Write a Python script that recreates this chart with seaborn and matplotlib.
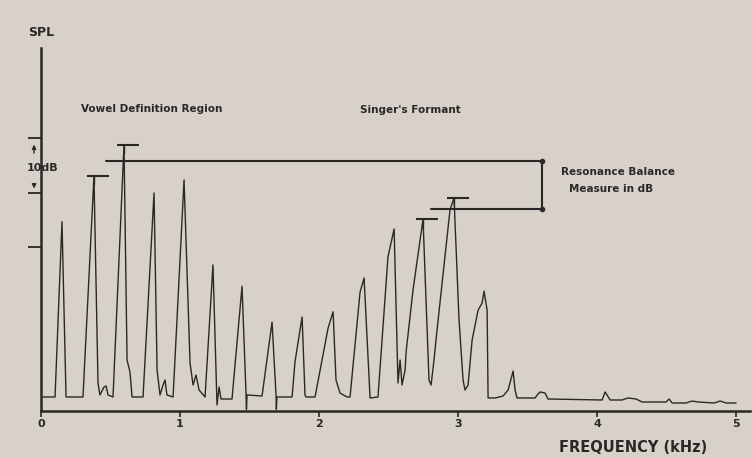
import numpy as np
import pandas as pd
import matplotlib
matplotlib.use("Agg")
import matplotlib.pyplot as plt
import seaborn as sns

# ---------------- data ----------------
freq_khz = [0.014, 0.101, 0.151, 0.180, 0.302, 0.381, 0.410, 0.424, 0.453, 0.468, 0.482, 0.518,
            0.597, 0.619, 0.640, 0.655, 0.734, 0.813, 0.835, 0.856, 0.878, 0.892, 0.906, 0.950,
            1.029, 1.072, 1.094, 1.115, 1.137, 1.180, 1.237, 1.266, 1.281, 1.295, 1.374, 1.446,
            1.475, 1.478, 1.482, 1.590, 1.662, 1.691, 1.693, 1.697, 1.806, 1.827, 1.878, 1.899,
            1.906, 1.971, 2.065, 2.101, 2.122, 2.151, 2.201, 2.223, 2.295, 2.324, 2.367, 2.424,
            2.496, 2.540, 2.568, 2.583, 2.597, 2.619, 2.626, 2.676, 2.748, 2.791, 2.806, 2.827,
            2.849, 2.942, 2.971, 3.007, 3.036, 3.050, 3.072, 3.101, 3.144, 3.173, 3.187, 3.209,
            3.216, 3.266, 3.324, 3.360, 3.396, 3.410, 3.424, 3.554, 3.575, 3.590, 3.626, 3.647,
            4.036, 4.058, 4.094, 4.180, 4.223, 4.281, 4.324, 4.496, 4.518, 4.540, 4.640, 4.683,
            4.727, 4.842, 4.885, 4.928, 5.000]
spl_db = [2.57, 2.57, 34.7, 2.57, 2.57, 43.1, 5.14, 2.94, 4.40, 4.59, 2.94, 2.57,
          48.8, 9.36, 7.16, 2.57, 2.57, 40.0, 7.52, 2.94, 4.77, 5.69, 2.94, 2.57,
          42.4, 8.81, 4.77, 6.61, 3.85, 2.57, 26.8, 1.10, 4.40, 2.20, 2.20, 22.9,
          2.94, 0.30, 2.94, 2.75, 16.3, 2.75, 0.30, 2.57, 2.57, 9.0, 17.25, 2.94,
          2.57, 2.57, 15.2, 18.2, 5.69, 3.30, 2.57, 2.57, 21.8, 24.4, 2.39, 2.57,
          28.3, 33.4, 5.14, 9.36, 4.77, 7.52, 10.8, 22.2, 35.2, 5.69, 4.77, 9.36,
          14.9, 36.9, 39.1, 16.7, 5.69, 3.85, 4.77, 13.0, 18.5, 19.8, 22.0, 18.5,
          2.39, 2.39, 2.75, 3.85, 7.34, 3.85, 2.39, 2.39, 3.10, 3.49, 3.30, 2.20,
          2.02, 3.49, 2.02, 2.02, 2.39, 2.20, 1.65, 1.65, 2.20, 1.47, 1.47, 1.83,
          1.65, 1.47, 1.83, 1.47, 1.47]

vowel_peak_khz = [0.381, 0.597]
vowel_peak_db = [43.1, 48.8]
formant_peak_khz = [2.748, 2.971]
formant_peak_db = [35.2, 39.1]

x_ticks = [0, 1, 2, 3, 4, 5]
y_ticks = [30, 40, 50]

# ---------------- style ----------------
sns.set_theme(style="white")
plt.rcParams["font.family"] = ["DejaVu Sans"]
BG = "#d7d1ca"
INK = "#2a2826"

fig = plt.figure(figsize=(7.52, 4.58), dpi=100, facecolor=BG)
W, H = 752, 458
ax = fig.add_axes([41 / W, (H - 411) / H, (750 - 41) / W, (411 - 48) / H])
ax.set_facecolor(BG)

df = pd.DataFrame({"freq": freq_khz, "spl": spl_db})
sns.lineplot(data=df, x="freq", y="spl", sort=False, estimator=None,
             color=INK, linewidth=1.0, ax=ax)

ax.set_xlim(0, 5.10)
ax.set_ylim(0, 66.6)

# caps on measured peaks
for f, d in zip(vowel_peak_khz + formant_peak_khz, vowel_peak_db + formant_peak_db):
    ax.plot([f - 0.05, f + 0.11], [d, d], color=INK, lw=1.5, solid_capstyle="butt")
    ax.plot([f, f], [d - 1.5, d], color=INK, lw=1.0)

vowel_level = float(np.mean(vowel_peak_db))
formant_level = float(np.mean(formant_peak_db))
x_bracket = 3.604
ax.plot([0.468, x_bracket], [vowel_level, vowel_level], color=INK, lw=1.5)
ax.plot([2.806, x_bracket], [formant_level, formant_level], color=INK, lw=1.5)
ax.plot([x_bracket, x_bracket], [formant_level, vowel_level], color=INK, lw=1.5)
ax.plot([x_bracket, x_bracket], [formant_level, vowel_level], 'o', color=INK, ms=3)

# axes look
for s in ["top", "right"]:
    ax.spines[s].set_visible(False)
for s in ["left", "bottom"]:
    ax.spines[s].set_color(INK)
    ax.spines[s].set_linewidth(1.8)
ax.set_xticks(x_ticks)
ax.set_xticklabels([str(t) for t in x_ticks], fontsize=8, fontweight="bold", color=INK)
ax.set_yticks(y_ticks)
ax.set_yticklabels([])
ax.tick_params(axis="x", direction="out", length=4, width=1.2, color=INK, pad=1.5, bottom=True)
ax.tick_params(axis="y", direction="out", length=9.5, width=1.3, color=INK, left=True)
ax.set_xlabel("")
ax.set_ylabel("")

# texts
tkw = dict(fontweight="bold", color=INK)
fig.text(41 / W, 1 - 33 / H, "SPL", fontsize=9, ha="center", va="center", **tkw)
fig.text(152 / W, 1 - 109 / H, "Vowel Definition Region", fontsize=7.5, ha="center", va="center", **tkw)
fig.text(410 / W, 1 - 110 / H, "Singer's Formant", fontsize=7.5, ha="center", va="center", **tkw)
fig.text(618 / W, 1 - 172 / H, "Resonance Balance", fontsize=7.5, ha="center", va="center", **tkw)
fig.text(611 / W, 1 - 189 / H, "Measure in dB", fontsize=7.5, ha="center", va="center", **tkw)
fig.text(633 / W, 1 - 448 / H, "FREQUENCY (kHz)", fontsize=10.5, ha="center", va="center", **tkw)
fig.text(43 / W, 1 - 168 / H, "10dB", fontsize=8, ha="center", va="center", **tkw)

# 10 dB arrows
ax.annotate("", xy=(-0.05, 49.4), xytext=(-0.05, 46.8), annotation_clip=False,
            arrowprops=dict(arrowstyle="-|>", color=INK, lw=1.0, mutation_scale=6))
ax.annotate("", xy=(-0.05, 40.3), xytext=(-0.05, 42.2), annotation_clip=False,
            arrowprops=dict(arrowstyle="-|>", color=INK, lw=1.0, mutation_scale=6))

fig.savefig("out.png", dpi=100, facecolor=BG)
